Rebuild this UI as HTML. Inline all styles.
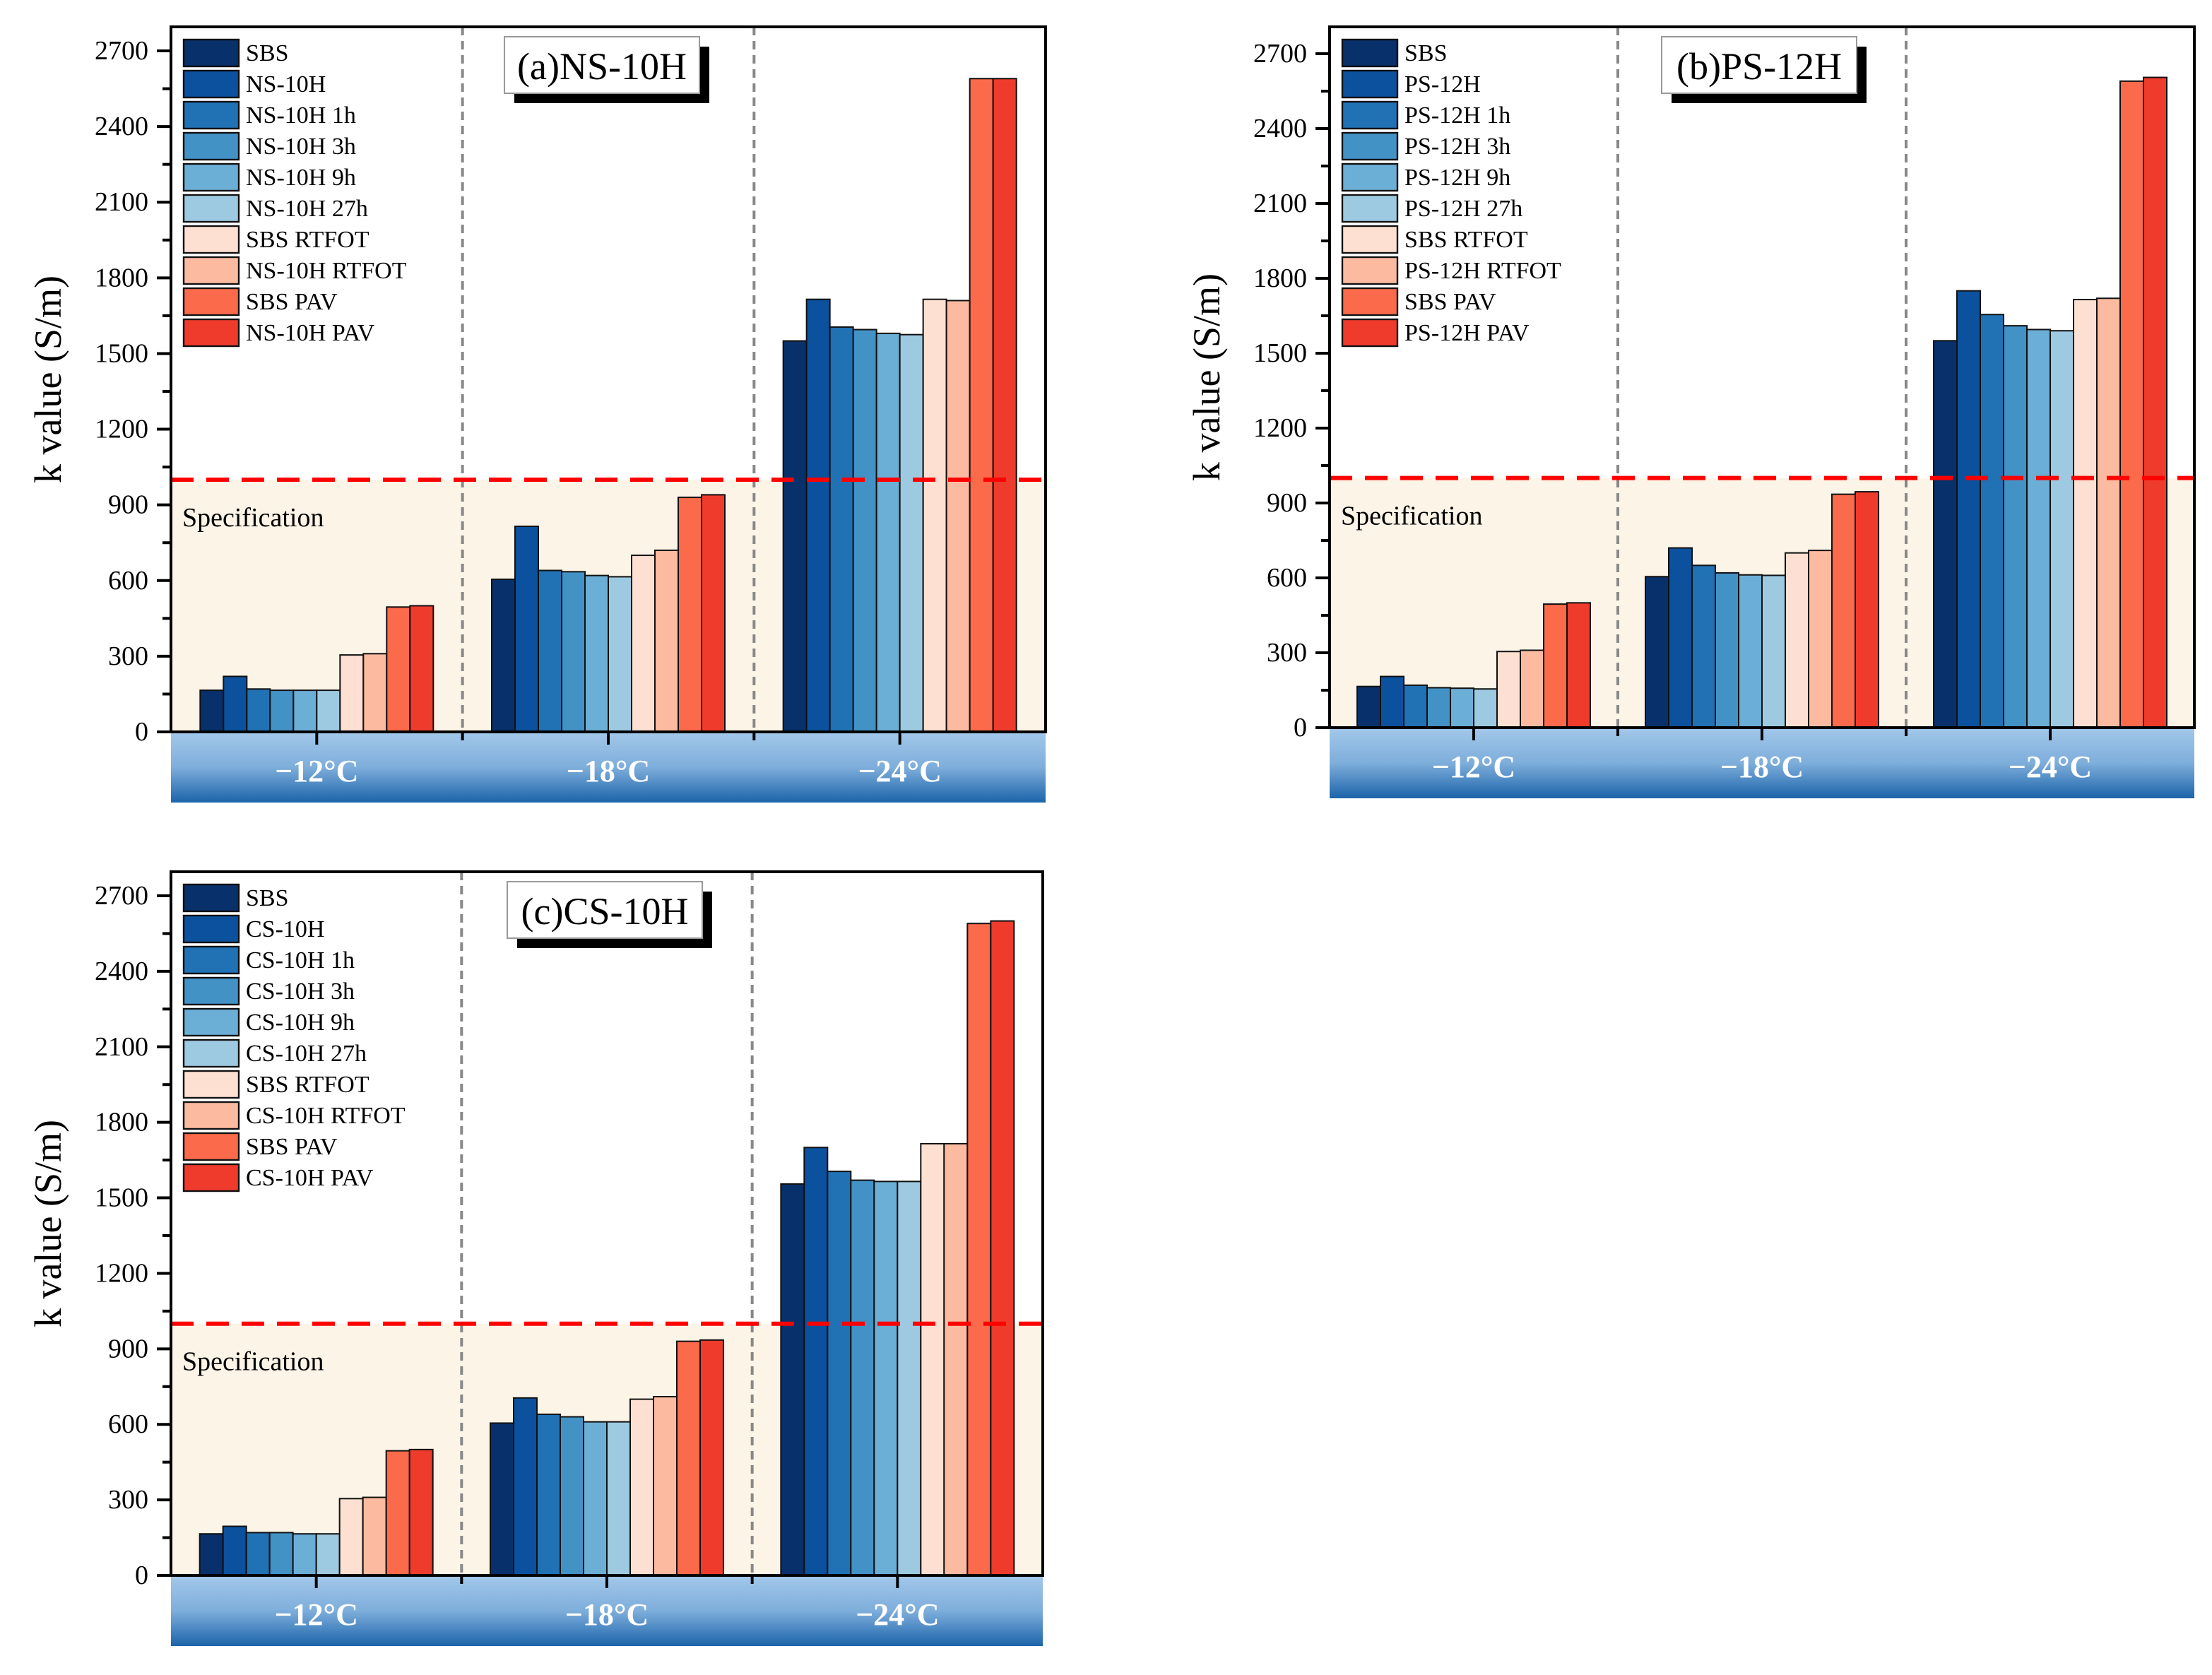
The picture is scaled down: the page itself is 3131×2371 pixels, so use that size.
<!DOCTYPE html>
<html><head><meta charset="utf-8"><style>
html,body{margin:0;padding:0;background:#fff;}
svg{display:block;font-family:"Liberation Serif","DejaVu Serif",serif;}
svg text{font-family:"Liberation Serif","DejaVu Serif",serif;}
</style></head><body>
<svg id="fig" width="3131" height="2371" viewBox="0 0 1565.5 1185.5" xmlns="http://www.w3.org/2000/svg" font-family="Liberation Serif, serif">
<defs>
<linearGradient id="band" x1="0" y1="0" x2="0" y2="1">
<stop offset="0" stop-color="#a3c8ea"/><stop offset="0.5" stop-color="#7eaedb"/><stop offset="1" stop-color="#1c64aa"/>
</linearGradient>
</defs>
</svg>
<script>
const categories = ["\u221212\u00b0C","\u221218\u00b0C","\u221224\u00b0C"];
const seriesA = ["SBS","NS-10H","NS-10H 1h","NS-10H 3h","NS-10H 9h","NS-10H 27h","SBS RTFOT","NS-10H RTFOT","SBS PAV","NS-10H PAV"];
const seriesB = ["SBS","PS-12H","PS-12H 1h","PS-12H 3h","PS-12H 9h","PS-12H 27h","SBS RTFOT","PS-12H RTFOT","SBS PAV","PS-12H PAV"];
const seriesC = ["SBS","CS-10H","CS-10H 1h","CS-10H 3h","CS-10H 9h","CS-10H 27h","SBS RTFOT","CS-10H RTFOT","SBS PAV","CS-10H PAV"];
const valuesA = [[165,220,170,165,165,165,305,310,495,500],[605,815,640,635,620,615,700,720,930,940],[1550,1715,1605,1595,1580,1575,1715,1710,2590,2590]];
const valuesB = [[165,205,170,160,158,155,305,310,495,500],[605,720,650,620,612,610,700,710,935,945],[1550,1750,1655,1610,1595,1590,1715,1720,2590,2605]];
const valuesC = [[165,195,170,170,165,165,305,310,495,500],[605,705,640,630,610,610,700,710,930,935],[1555,1700,1605,1570,1565,1565,1715,1715,2590,2600]];
const yTicks = [0,300,600,900,1200,1500,1800,2100,2400,2700];
const specLimit = [1000];
const colors = ["#08306b","#0b519e","#2171b5","#4292c6","#6baed6","#9ecae1","#fde0d2","#fcbba1","#fb6a4a","#ef3b2c"];

const NS="http://www.w3.org/2000/svg";
const svg=document.getElementById('fig');
const FF='"Liberation Serif", serif';
function mk(tag,attrs,parent,txt){const e=document.createElementNS(NS,tag);for(const k in attrs)e.setAttribute(k,attrs[k]);if(tag==='text'){e.setAttribute('font-family',FF);e.style.fontFamily=FF;}if(txt!==undefined)e.textContent=txt;(parent||svg).appendChild(e);return e;}

function panel(id,title,series,values,L,R,T,B,y2700,boxX){
  const g=mk('g',{});
  
  
  const y=v=>B-(B-y2700)*v/2700;
  const gw=(R-L)/3;
  const spec=mk('rect',{x:L,y:y(specLimit[0]),width:R-L,height:B-y(specLimit[0]),fill:'#fcf4e6'},g);
  
  
  for(let i=1;i<3;i++){
    const s=mk('line',{x1:L+gw*i,x2:L+gw*i,y1:T,y2:B,stroke:'#888','stroke-width':2,'stroke-dasharray':'6,4'},g);
    
    
  }
  const bw=16.5;
  values.forEach((grp,gi)=>{
    const cx=L+gw*(gi+0.5);
    const x0=cx-bw*grp.length/2;
    grp.forEach((v,si)=>{
      const r=mk('rect',{x:x0+si*bw,y:y(v),width:bw,height:B-y(v),fill:colors[si],stroke:'#111','stroke-width':1},g);
      
      
    });
  });
  const sl=mk('line',{x1:L,x2:R,y1:y(specLimit[0]),y2:y(specLimit[0]),stroke:'#ff0000','stroke-width':3,'stroke-dasharray':'16,9'},g);
  
  
  const st=mk('text',{x:L+8,y:y(specLimit[0])+33,'font-size':19},g,'Specification');
  
  
  const fr=mk('rect',{x:L,y:T,width:R-L,height:B-T,fill:'none',stroke:'#000','stroke-width':2},g);
  
  
  yTicks.forEach(t=>{
    mk('line',{x1:L-10,x2:L,y1:y(t),y2:y(t),stroke:'#000','stroke-width':2},g);
    const tl=mk('text',{x:L-16,y:y(t)+6,'font-size':19,'text-anchor':'end'},g,String(t));
    
    
    if(t<2700) mk('line',{x1:L-6,x2:L,y1:y(t+150),y2:y(t+150),stroke:'#000','stroke-width':2},g);
  });
  const yt=mk('text',{x:0,y:0,'font-size':27,'text-anchor':'middle',transform:`translate(${L-78},${(T+B)/2}) rotate(-90)`},g,'k value (S/m)');
  
  
  const band=mk('rect',{x:L,y:B,width:R-L,height:50,fill:'url(#band)'},g);
  
  
  mk('line',{x1:L,x2:R,y1:B,y2:B,stroke:'#000','stroke-width':2},g);
  categories.forEach((c,i)=>{
    mk('line',{x1:L+gw*(i+0.5),x2:L+gw*(i+0.5),y1:B,y2:B+9,stroke:'#000','stroke-width':2},g);
    if(i>0) mk('line',{x1:L+gw*i,x2:L+gw*i,y1:B,y2:B+6,stroke:'#000','stroke-width':2},g);
    const ct=mk('text',{x:L+gw*(i+0.5),y:B+35,'font-size':22,'font-weight':'bold','text-anchor':'middle',fill:'#fff'},g,c);
    
    
  });
  series.forEach((s,i)=>{
    const ly=T+9+i*22;
    const lr=mk('rect',{x:L+9,y:ly,width:39,height:19,fill:colors[i],stroke:'#111','stroke-width':1.2},g);
    
    
    const lt=mk('text',{x:L+53,y:ly+15,'font-size':17},g,s);
    
    
  });
  mk('rect',{x:boxX+7,y:T+14,width:138,height:40,fill:'#000'},g);
  const tb=mk('rect',{x:boxX,y:T+7,width:138,height:40,fill:'#fff',stroke:'#999','stroke-width':1},g);
  
  
  const tt=mk('text',{x:boxX+69,y:T+37,'font-size':27,'text-anchor':'middle'},g,title);
  
  
}
panel('a','(a)NS-10H',seriesA,valuesA,121,740,19,518,36,357);
panel('b','(b)PS-12H',seriesB,valuesB,941,1553,19,515,38,1176);
panel('c','(c)CS-10H',seriesC,valuesC,121,738,617,1115,634,359);
</script>
</body></html>
